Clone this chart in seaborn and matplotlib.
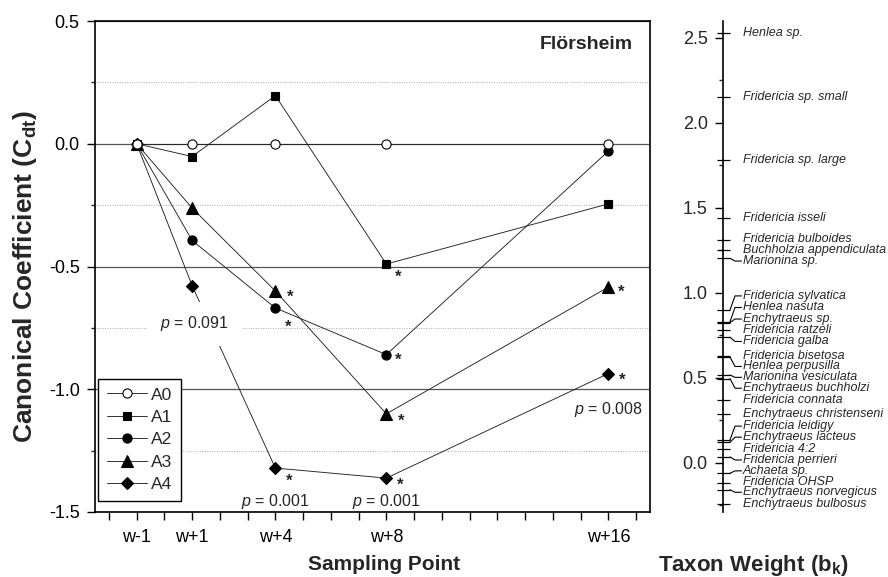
import numpy as np
import pandas as pd
import matplotlib
matplotlib.use("Agg")
import matplotlib.pyplot as plt
from matplotlib.ticker import MultipleLocator, FixedLocator, FixedFormatter
import seaborn as sns

# ---------------- data ----------------
weeks = [-1, 1, 4, 8, 16]
week_labels = ["w-1", "w+1", "w+4", "w+8", "w+16"]
treatments = ["A0", "A1", "A2", "A3", "A4"]
A0 = [0.0, 0.0, 0.0, 0.0, 0.0]
A1 = [0.0, -0.052, 0.196, -0.490, -0.245]
A2 = [0.0, -0.394, -0.669, -0.859, -0.030]
A3 = [0.0, -0.262, -0.600, -1.100, -0.584]
A4 = [0.0, -0.578, -1.321, -1.362, -0.936]
series = {"A0": A0, "A1": A1, "A2": A2, "A3": A3, "A4": A4}

# significant points (treatment, week)
sig_points = [("A1", 8), ("A2", 4), ("A3", 4), ("A2", 8), ("A3", 8),
              ("A4", 4), ("A4", 8), ("A3", 16), ("A4", 16)]
p_values = ["0.091", "0.001", "0.001", "0.008"]

taxa = ["Henlea sp.", "Fridericia sp. small", "Fridericia sp. large",
        "Fridericia isseli", "Fridericia bulboides", "Buchholzia appendiculata",
        "Marionina sp.", "Fridericia sylvatica", "Henlea nasuta",
        "Enchytraeus sp.", "Fridericia ratzeli", "Fridericia galba",
        "Fridericia bisetosa", "Henlea perpusilla", "Marionina vesiculata",
        "Enchytraeus buchholzi", "Fridericia connata", "Enchytraeus christenseni",
        "Fridericia leidigy", "Enchytraeus lacteus", "Fridericia 4:2",
        "Fridericia perrieri", "Achaeta sp.", "Fridericia OHSP",
        "Enchytraeus norvegicus", "Enchytraeus bulbosus"]
taxon_weights = [2.525, 2.153, 1.780, 1.438, 1.310, 1.251, 1.202, 0.898, 0.829,
                 0.824, 0.781, 0.738, 0.628, 0.622, 0.516, 0.495, 0.366, 0.284,
                 0.134, 0.120, 0.082, 0.034, -0.062, -0.122, -0.159, -0.241]

# label placement (layout only)
label_pos = [2.525, 2.153, 1.780, 1.438, 1.316, 1.251, 1.186, 0.981, 0.913,
             0.845, 0.778, 0.713, 0.628, 0.566, 0.502, 0.438, 0.366, 0.285,
             0.215, 0.150, 0.083, 0.016, -0.048, -0.111, -0.174, -0.243]

# ---------------- style ----------------
sns.set_style("ticks")
plt.rcParams["font.family"] = ["Liberation Sans", "DejaVu Sans"]
plt.rcParams["mathtext.fontset"] = "custom"
plt.rcParams["mathtext.rm"] = "Liberation Sans"
plt.rcParams["mathtext.it"] = "Liberation Sans:italic"
plt.rcParams["mathtext.bf"] = "Liberation Sans:bold"

W, H = 888, 577
fig = plt.figure(figsize=(W / 100, H / 100), dpi=100)
PX = 72 / 100  # points per pixel

ax = fig.add_axes([95 / W, (H - 512) / H, 555 / W, 491 / H])

markers = {"A0": ("o", 6.6, "white"), "A1": ("s", 6.4, "black"),
           "A2": ("o", 6.6, "black"), "A3": ("^", 8.4, "black"),
           "A4": ("D", 6.0, "black")}
zorders = {"A0": 6, "A1": 5, "A2": 4, "A3": 4, "A4": 4}

for t in treatments:
    m, ms, fc = markers[t]
    df = pd.DataFrame({"week": weeks, "value": series[t]})
    sns.lineplot(data=df, x="week", y="value", ax=ax, color="#222222",
                 linewidth=0.65, marker=m, markersize=ms, markerfacecolor=fc,
                 markeredgecolor="black", markeredgewidth=0.8, label=t,
                 zorder=zorders[t], sort=False)

ax.set_xlim(-2.5, 17.5)
ax.set_ylim(-1.5, 0.5)
ax.set_xlabel("")
ax.set_ylabel("")

# x ticks: every week, labels at sampling points
all_ticks = list(range(-2, 18))
ax.xaxis.set_major_locator(FixedLocator(all_ticks))
ax.xaxis.set_major_formatter(FixedFormatter(
    [week_labels[weeks.index(w)] if w in weeks else "" for w in all_ticks]))
ax.yaxis.set_major_locator(MultipleLocator(0.5))
ax.yaxis.set_minor_locator(MultipleLocator(0.25))
ax.yaxis.set_major_formatter(matplotlib.ticker.FormatStrFormatter("%.1f"))
ax.tick_params(axis="both", which="major", direction="out", length=6,
               width=1.0, color="black", labelsize=13, labelcolor="black")
ax.tick_params(axis="x", pad=6)
ax.tick_params(axis="y", pad=5)
ax.tick_params(axis="y", which="minor", direction="out", length=3, width=1.0)

# reference lines
ax.yaxis.grid(True, which="major", linestyle="-", color="#555555", linewidth=0.9, zorder=1)
ax.yaxis.grid(True, which="minor", linestyle=(0, (1, 1.5)), color="#aaaaaa", linewidth=0.7, zorder=1)
ax.set_axisbelow(True)
for s in ax.spines.values():
    s.set_visible(True)
    s.set_color("black")
    s.set_linewidth(1.2)

# significance asterisks: offsets in pixels (dx, dy-down)
star_offsets = [(12, 8.5), (12.5, 14.5), (15, 2), (11.5, 1.5), (14.5, 3),
                (13.5, 9), (14, 3), (13, 1), (14, 2.5)]
for (t, w), (dx, dy) in zip(sig_points, star_offsets):
    val = series[t][weeks.index(w)]
    ax.annotate("*", xy=(w, val), xytext=(dx * PX, -(dy + 4.5) * PX),
                textcoords="offset points", ha="center", va="center",
                fontsize=12, fontweight="bold", zorder=7)

# p-values
ax.text(1.09, -0.734, r"$p$ = " + p_values[0], ha="center", va="center",
        fontsize=11.5, zorder=8,
        bbox=dict(boxstyle="square,pad=0.8", fc="white", ec="none"))
ax.text(4, -1.458, r"$p$ = " + p_values[1], ha="center", va="center", fontsize=11.5, zorder=8)
ax.text(8, -1.458, r"$p$ = " + p_values[2], ha="center", va="center", fontsize=11.5, zorder=8)
ax.text(16, -1.081, r"$p$ = " + p_values[3], ha="center", va="center", fontsize=11.5, zorder=8)

ax.text(0.969, 0.9525, "Flörsheim", transform=ax.transAxes, ha="right",
        va="center", fontsize=14, fontweight="bold")

leg = ax.legend(loc="lower left", bbox_to_anchor=(3 / 555, 11 / 491),
                borderaxespad=0, frameon=True, fancybox=False,
                edgecolor="black", fontsize=12.5, handlelength=2.3,
                handletextpad=0.25, labelspacing=0.42, borderpad=0.5,
                framealpha=1)
leg.get_frame().set_linewidth(1.0)
leg.set_zorder(10)

# ---------------- taxon weight panel ----------------
ax2 = fig.add_axes([723 / W, (H - 512) / H, 165 / W, 491 / H])
ax2.patch.set_alpha(0)
ax2.set_xlim(0, 165)
ax2.set_ylim(-0.29, 2.598)
for k in ["top", "right", "bottom"]:
    ax2.spines[k].set_visible(False)
ax2.spines["left"].set_linewidth(1.2)
ax2.spines["left"].set_color("black")
ax2.set_xticks([])
ax2.yaxis.set_major_locator(MultipleLocator(0.5))
ax2.yaxis.set_minor_locator(MultipleLocator(0.25))
ax2.yaxis.set_major_formatter(matplotlib.ticker.FormatStrFormatter("%.1f"))
ax2.tick_params(axis="y", which="major", direction="out", length=6, width=1.0,
                labelsize=13, pad=5, color="black")
ax2.tick_params(axis="y", which="minor", direction="out", length=3, width=1.0)

ax2.hlines(taxon_weights, -6, 7, color="black", linewidth=0.9, clip_on=False)
for name, wgt, lp in zip(taxa, taxon_weights, label_pos):
    if abs(lp - wgt) > 0.012:
        ax2.plot([7, 12, 18.5], [wgt, lp, lp], color="black", linewidth=0.8,
                 clip_on=False)
    ax2.text(20, lp, name, fontsize=9, style="italic", ha="left", va="center")

# ---------------- axis titles ----------------
fig.text(25 / W, 1 - 276.7 / H, r"Canonical Coefficient (C$_{\mathbf{dt}}$)",
         rotation=90, ha="center", va="center", fontsize=19, fontweight="bold")
fig.text(384.5 / W, 1 - 565 / H, "Sampling Point", ha="center", va="center",
         fontsize=15, fontweight="bold")
fig.text(753 / W, 1 - 565 / H, r"Taxon Weight (b$_{\mathbf{k}}$)", ha="center",
         va="center", fontsize=16, fontweight="bold")

fig.savefig("out.png", dpi=100)
